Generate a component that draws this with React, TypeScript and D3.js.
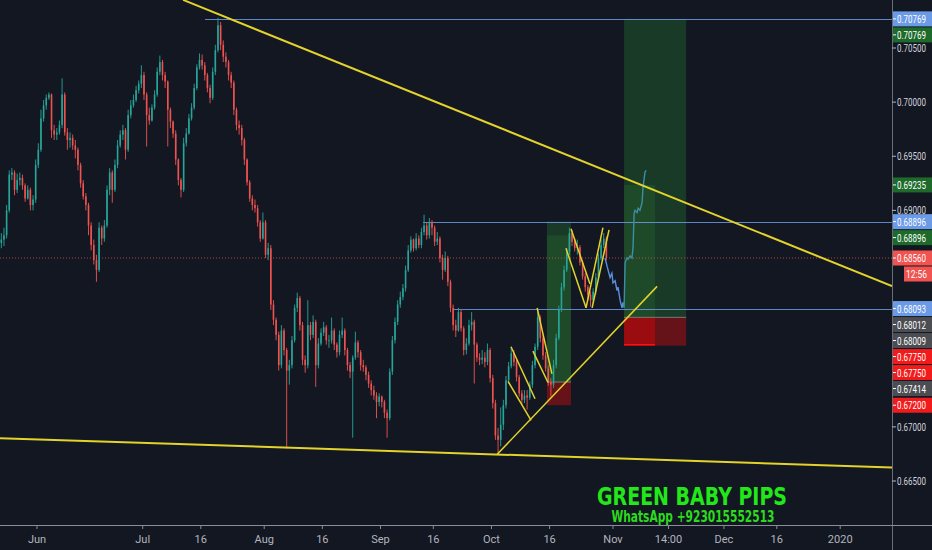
import * as d3 from "d3";
import React from "react";

const W = 932;
const H = 550;
const plotW = 892;
const plotH = 525;

// half-day bars, prices in 0.0001 units; open of each bar = previous close
const firstOpen = 6870;
const closes = [
  6873, 6877, 6900, 6933, 6935, 6919, 6928, 6930, 6923, 6911, 6919, 6905, 6910, 6942, 6956, 6985, 6997, 7004, 7007, 6974,
  6970, 6972, 6979, 7007, 6972, 6965, 6967, 6960, 6956, 6942, 6925, 6913, 6905, 6886, 6868, 6854, 6845, 6884, 6874, 6886,
  6919, 6935, 6919, 6942, 6960, 6970, 6974, 6956, 6988, 6997, 7002, 7011, 7017, 7025, 7007, 6988, 6983, 6995, 7007, 7028,
  7037, 7025, 7019, 6993, 6982, 6971, 6947, 6928, 6919, 6962, 6971, 6985, 6995, 7013, 7032, 7039, 7034, 7025, 7013, 7004,
  7028, 7048, 7071, 7053, 7042, 7037, 7025, 7018, 6993, 6979, 6976, 6965, 6947, 6926, 6911, 6905, 6902, 6889, 6874, 6889,
  6859, 6865, 6813, 6799, 6785, 6757, 6789, 6771, 6752, 6757, 6780, 6810, 6819, 6794, 6762, 6757, 6794, 6785, 6797, 6757,
  6777, 6787, 6792, 6780, 6780, 6789, 6776, 6769, 6785, 6789, 6771, 6757, 6751, 6764, 6778, 6769, 6757, 6755, 6748, 6740,
  6734, 6729, 6723, 6728, 6723, 6713, 6708, 6751, 6780, 6797, 6813, 6820, 6828, 6845, 6863, 6873, 6865, 6874, 6868, 6880,
  6886, 6877, 6889, 6884, 6871, 6874, 6856, 6845, 6856, 6834, 6810, 6794, 6789, 6806, 6791, 6771, 6777, 6794, 6797, 6776,
  6764, 6762, 6764, 6760, 6771, 6745, 6722, 6692, 6688, 6702, 6720, 6743, 6756, 6768, 6760, 6746, 6731, 6725, 6729, 6727,
  6739, 6757, 6774, 6801, 6782, 6766, 6754, 6741, 6739, 6757, 6782, 6808, 6829, 6845, 6862, 6879, 6871, 6865, 6866, 6852,
  6839, 6829, 6822, 6817, 6825, 6838, 6856, 6868, 6874, 6856,
];
const highs = [
  6879, 6884, 6905, 6937, 6939, 6937, 6934, 6935, 6933, 6925, 6923, 6921, 6914, 6947, 6962, 6993, 7002, 7007, 7009, 7008,
  6979, 6976, 6983, 7022, 7009, 6976, 6972, 6970, 6965, 6958, 6944, 6928, 6916, 6907, 6889, 6873, 6859, 6889, 6886, 6891,
  6923, 6939, 6937, 6947, 6965, 6974, 6979, 6976, 6993, 7002, 7007, 7015, 7020, 7034, 7028, 7009, 6995, 6998, 7011, 7032,
  7043, 7039, 7028, 7020, 6995, 6983, 6974, 6948, 6930, 6967, 6976, 6989, 6999, 7017, 7035, 7045, 7044, 7037, 7027, 7016,
  7032, 7053, 7078, 7074, 7057, 7046, 7039, 7028, 7020, 6995, 6983, 6979, 6967, 6948, 6928, 6914, 6910, 6905, 6891, 6898,
  6891, 6870, 6868, 6817, 6801, 6788, 6794, 6791, 6773, 6762, 6784, 6813, 6824, 6821, 6797, 6766, 6817, 6797, 6803, 6799,
  6782, 6791, 6797, 6794, 6785, 6801, 6791, 6778, 6789, 6801, 6791, 6773, 6760, 6766, 6788, 6780, 6771, 6762, 6757, 6751,
  6743, 6738, 6732, 6731, 6729, 6725, 6716, 6754, 6784, 6801, 6817, 6825, 6832, 6849, 6868, 6876, 6874, 6879, 6877, 6884,
  6896, 6889, 6893, 6891, 6886, 6880, 6876, 6859, 6862, 6858, 6836, 6813, 6799, 6810, 6808, 6793, 6782, 6799, 6806, 6799,
  6778, 6768, 6771, 6769, 6777, 6773, 6748, 6725, 6699, 6718, 6725, 6747, 6760, 6774, 6771, 6762, 6748, 6734, 6734, 6734,
  6742, 6761, 6777, 6808, 6803, 6785, 6769, 6757, 6745, 6762, 6786, 6812, 6833, 6849, 6865, 6884, 6882, 6874, 6873, 6868,
  6854, 6842, 6831, 6825, 6828, 6842, 6860, 6873, 6879, 6876,
];
const lows = [
  6865, 6867, 6874, 6898, 6928, 6914, 6916, 6923, 6919, 6908, 6910, 6900, 6900, 6907, 6939, 6954, 6982, 6993, 7002, 6967,
  6965, 6965, 6970, 6976, 6969, 6956, 6958, 6956, 6948, 6937, 6921, 6910, 6900, 6877, 6863, 6850, 6834, 6843, 6868, 6871,
  6884, 6914, 6907, 6917, 6939, 6958, 6965, 6947, 6954, 6985, 6995, 7000, 7008, 7013, 7002, 6959, 6979, 6982, 6993, 7005,
  7025, 7020, 7013, 6959, 6976, 6967, 6942, 6923, 6912, 6917, 6959, 6970, 6983, 6993, 7011, 7030, 7030, 7020, 7009, 6999,
  7002, 7025, 7046, 7048, 7037, 7032, 7020, 7013, 6988, 6974, 6970, 6960, 6942, 6923, 6908, 6900, 6898, 6885, 6871, 6873,
  6856, 6854, 6808, 6794, 6780, 6752, 6754, 6766, 6680, 6739, 6754, 6778, 6806, 6789, 6757, 6750, 6754, 6780, 6782, 6737,
  6754, 6775, 6784, 6776, 6773, 6777, 6771, 6764, 6766, 6782, 6766, 6752, 6745, 6690, 6762, 6764, 6752, 6751, 6743, 6736,
  6729, 6725, 6708, 6719, 6718, 6708, 6690, 6706, 6748, 6777, 6794, 6810, 6817, 6825, 6843, 6861, 6862, 6863, 6865, 6865,
  6877, 6873, 6874, 6877, 6867, 6868, 6852, 6836, 6843, 6830, 6806, 6789, 6783, 6788, 6788, 6766, 6767, 6775, 6789, 6740,
  6760, 6757, 6758, 6755, 6757, 6741, 6717, 6688, 6674, 6682, 6697, 6717, 6740, 6754, 6756, 6742, 6728, 6721, 6722, 6716,
  6725, 6736, 6754, 6771, 6778, 6762, 6751, 6738, 6728, 6736, 6754, 6780, 6806, 6826, 6843, 6859, 6867, 6862, 6859, 6849,
  6836, 6825, 6817, 6811, 6814, 6822, 6836, 6854, 6865, 6854,
];

// projected path drawn after the last bar (bar index, price 0.0001 units)
const ghostDownT = [229.0, 229.8, 230.9, 231.6, 232.0, 232.8, 233.5, 233.9, 234.7, 235.4, 235.8];
const ghostDownP = [6856, 6848, 6838, 6842, 6833, 6835, 6826, 6829, 6817, 6810, 6815];
const ghostUpT = [235.8, 236.2, 236.6, 237.3, 237.7, 238.5, 239.2, 239.6, 240.0, 240.3, 241.1, 241.5, 242.2, 243.0, 243.4, 244.1, 244.5];
const ghostUpP = [6815, 6810, 6852, 6856, 6855, 6858, 6856, 6866, 6897, 6900, 6898, 6902, 6900, 6907, 6922, 6935, 6937];

const timeTicks = [14, 54, 76, 100, 122, 144, 164, 186, 208, 232, 253, 274, 294, 318];
const timeLabels = ["Jun", "Jul", "16", "Aug", "16", "Sep", "16", "Oct", "16", "Nov", "14:00", "Dec", "16", "2020"];

const priceTicks = [0.665, 0.67, 0.675, 0.68, 0.685, 0.69, 0.695, 0.7, 0.705];

const levelPrices = [0.70769, 0.68896, 0.68093];
const levelStart = [77.6, 160.1, 171.8];
const lastPrice = 0.6856;
const countdown = "12:56";

// [t1, p1, t2, p2, width]
const trendLines: [number, number, number, number, number][] = [
  [69.3, 0.70944, 337.6, 0.683, 2],
  [0, 0.66896, 337.6, 0.66625, 2],
  [188.1, 0.66744, 248.7, 0.68298, 1.5],
  [193.4, 0.6774, 202.5, 0.6726, 1.5],
  [192.3, 0.6742, 201.0, 0.6706, 1.5],
  [203.3, 0.681, 208.9, 0.6749, 1.5],
  [201.7, 0.677, 207.4, 0.6741, 1.5],
  [216.1, 0.6883, 223.3, 0.6832, 1.5],
  [214.2, 0.6865, 221.8, 0.681, 1.5],
  [221.8, 0.681, 228.2, 0.6884, 1.5],
  [224.1, 0.681, 230.5, 0.6882, 1.5],
];

// long positions: start, split, end, entry, stop, target, best reached
const positions = [
  { t1: 207.0, tMid: 216.1, t2: 216.1, entry: 0.67414, stop: 0.672, target: 0.68896, reached: 0.6877 },
  { t1: 236.2, tMid: 247.9, t2: 259.7, entry: 0.68012, stop: 0.6775, target: 0.70769, reached: 0.69235 },
];

const BLUE = "#6b9ae6";
const GREEN = "#1d6a2b";
const RED = "#f21b1b";
const GRAY = "#4b4d52";
const LAST = "#f05350";

const axisLabels: [number, string][] = [
  [0.70769, BLUE], [0.70769, GREEN], [0.69235, GREEN], [0.68896, BLUE], [0.68896, GREEN],
  [0.6856, LAST], [0.68093, BLUE], [0.68012, GRAY], [0.68009, GRAY], [0.6775, RED],
  [0.6775, RED], [0.67414, GRAY], [0.672, RED],
];

export default function App() {
  const x = d3.scaleLinear().domain([0, 337.6]).range([0, plotW]);
  const y = d3.scaleLinear().domain([0.665, 0.705]).range([481, 48]);
  const step = x(1) - x(0);
  const bw = step * 0.6;

  const bars = closes.map((c, i) => ({
    o: (i ? closes[i - 1] : firstOpen) / 1e4,
    h: highs[i] / 1e4,
    l: lows[i] / 1e4,
    c: c / 1e4,
  }));

  const line = d3.line<[number, number]>().x(d => x(d[0])).y(d => y(d[1]));
  const ghostDown = line(ghostDownT.map((t, i) => [t, ghostDownP[i] / 1e4]));
  const ghostUp = line(ghostUpT.map((t, i) => [t, ghostUpP[i] / 1e4]));

  // stack axis labels so they don't overlap
  const placed: { y: number; text: string; bg: string; p: number }[] = [];
  let prev = -Infinity;
  axisLabels
    .map(([p, bg]) => ({ p, bg, y0: y(p) }))
    .sort((a, b) => a.y0 - b.y0)
    .forEach(d => {
      let yy = Math.max(d.y0, prev + 16);
      placed.push({ y: yy, text: d.p.toFixed(5), bg: d.bg, p: d.p });
      prev = yy;
      if (d.p === lastPrice) {
        placed.push({ y: yy + 16, text: countdown, bg: LAST, p: -1 });
        prev = yy + 16;
      }
    });

  // plain ticks hidden under a coloured label are skipped
  const freeTicks = priceTicks.filter(p => !placed.some(d => Math.abs(d.y - y(p)) < 9));

  return (
    <svg width={W} height={H} style={{ position: "fixed", left: 0, top: 0, background: "#131722" }}
      fontFamily="Roboto, 'Liberation Sans', sans-serif">
      <defs>
        <clipPath id="plot"><rect x={0} y={0} width={plotW} height={plotH} /></clipPath>
      </defs>
      <rect width={W} height={H} fill="#131722" />

      <g clipPath="url(#plot)">
        {positions.map((p, i) => (
          <g key={i}>
            <rect x={x(p.t1)} y={y(p.target)} width={x(p.t2) - x(p.t1)} height={y(p.entry) - y(p.target)} fill="#193a27" />
            <rect x={x(p.t1)} y={y(p.reached)} width={x(p.tMid) - x(p.t1)} height={y(p.entry) - y(p.reached)} fill="#1f4a29" />
            <rect x={x(p.t1)} y={y(p.entry)} width={x(p.t2) - x(p.t1)} height={y(p.stop) - y(p.entry)} fill="#651318" />
            {i === 1 && (
              <>
                <rect x={x(p.t1)} y={y(p.entry)} width={x(p.tMid) - x(p.t1)} height={y(p.stop) - y(p.entry)} fill="#9a0c10" />
                <line x1={x(p.t1)} x2={x(p.tMid)} y1={y(p.stop) - 1} y2={y(p.stop) - 1} stroke="#ff1010" strokeWidth={1.5} />
              </>
            )}
            <line x1={x(p.t1)} x2={x(p.t2)} y1={y(p.entry)} y2={y(p.entry)} stroke="#7a7a7a" strokeWidth={1} />
          </g>
        ))}

        {levelPrices.map((p, i) => (
          <line key={p} x1={x(levelStart[i])} x2={plotW} y1={Math.round(y(p)) + 0.5} y2={Math.round(y(p)) + 0.5}
            stroke={BLUE} strokeOpacity={0.85} strokeWidth={1} />
        ))}

        <line x1={0} x2={plotW} y1={y(lastPrice)} y2={y(lastPrice)} stroke={LAST} strokeOpacity={0.7}
          strokeWidth={1} strokeDasharray="1 2" />

        {bars.map((b, i) => {
          const cx = x(i + 0.5);
          const up = b.c >= b.o;
          const col = up ? "#26a69a" : "#ef5350";
          const top = y(Math.max(b.o, b.c));
          const bot = y(Math.min(b.o, b.c));
          return (
            <g key={i}>
              <line x1={cx} x2={cx} y1={y(b.h)} y2={y(b.l)} stroke={col} strokeWidth={0.9} />
              <rect x={cx - bw / 2} y={top} width={bw} height={Math.max(0.8, bot - top)} fill={col} />
            </g>
          );
        })}

        <path d={ghostDown ?? undefined} fill="none" stroke="#5d8fe0" strokeWidth={1.4} />
        <path d={ghostUp ?? undefined} fill="none" stroke="#3b8ea5" strokeWidth={1.4} />

        {trendLines.map(([t1, p1, t2, p2, w], i) => (
          <line key={i} x1={x(t1)} y1={y(p1)} x2={x(t2)} y2={y(p2)} stroke="#e3d32b" strokeWidth={w} />
        ))}

        <text x={692} y={505} textAnchor="middle" fontFamily="'DejaVu Sans', sans-serif" fontWeight="bold"
          fontSize={25} fill="#22e81a" textLength={190} lengthAdjust="spacingAndGlyphs">GREEN BABY PIPS</text>
        <text x={693} y={522} textAnchor="middle" fontFamily="'DejaVu Sans', sans-serif" fontWeight="bold"
          fontSize={15} fill="#2bdc1c" textLength={163} lengthAdjust="spacingAndGlyphs">WhatsApp +923015552513</text>
      </g>

      {/* axes */}
      <line x1={plotW + 0.5} x2={plotW + 0.5} y1={0} y2={H} stroke="#6a6d78" />
      <line x1={0} x2={W} y1={plotH + 0.5} y2={plotH + 0.5} stroke="#8a8d96" />

      {timeTicks.map((t, i) => (
        <g key={i}>
          <line x1={x(t)} x2={x(t)} y1={plotH} y2={plotH + 4} stroke="#8a8d96" />
          <text x={x(t)} y={543} textAnchor="middle" fontSize={11} fill="#b2b5be">{timeLabels[i]}</text>
        </g>
      ))}

      {freeTicks.map(p => (
        <g key={p}>
          <line x1={plotW} x2={plotW + 4} y1={y(p)} y2={y(p)} stroke="#b2b5be" />
          <text x={897} y={y(p) + 4} fontSize={11} fill="#d1d4dc" textLength={29} lengthAdjust="spacingAndGlyphs">
            {p.toFixed(5)}
          </text>
        </g>
      ))}

      {placed.map((d, i) => {
        const cd = d.p < 0;
        const x0 = cd ? 904 : plotW + 1;
        return (
          <g key={i}>
            <rect x={x0} y={d.y - 7.5} width={W - x0} height={15} fill={d.bg} />
            {!cd && <line x1={plotW + 1} x2={plotW + 4} y1={d.y} y2={d.y} stroke="#ffffff" />}
            <text x={cd ? 927 : 897} y={d.y + 4} fontSize={11} fill="#ffffff" textAnchor={cd ? "end" : "start"}
              textLength={cd ? 21 : 29} lengthAdjust="spacingAndGlyphs">{d.text}</text>
          </g>
        );
      })}
    </svg>
  );
}
